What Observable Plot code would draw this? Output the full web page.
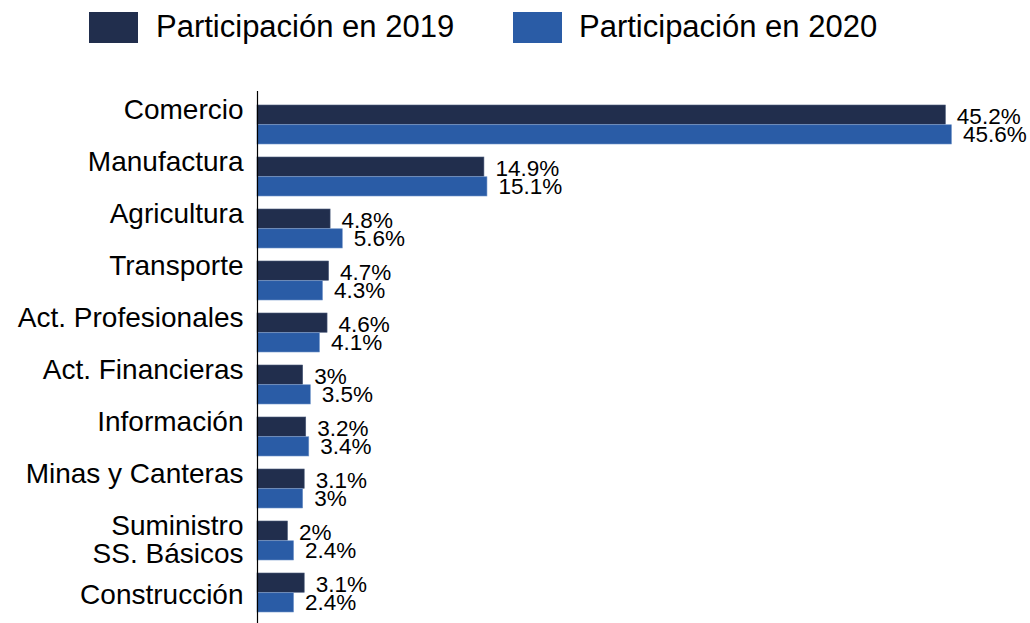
<!DOCTYPE html>
<html>
<head>
<meta charset="utf-8">
<script src="https://cdn.jsdelivr.net/npm/d3@7"></script>
<script src="https://cdn.jsdelivr.net/npm/@observablehq/plot@0.6"></script>
<style>
  html, body { margin: 0; padding: 0; background: #fff; }
  body { width: 1030px; height: 623px; overflow: hidden; font-family: "Liberation Sans", Arial, Helvetica, sans-serif; }
  #legend { position: relative; height: 60px; }
  .sw { position: absolute; top: 12px; width: 49px; height: 31px; }
  .lt { position: absolute; top: 10px; font-size: 31px; line-height: 34px; color: #000; white-space: nowrap; }
</style>
</head>
<body>
<div id="legend"></div>
<div id="chart"></div>
<script>
const categories = ["Comercio", "Manufactura", "Agricultura", "Transporte", "Act. Profesionales",
  "Act. Financieras", "Información", "Minas y Canteras", "Suministro SS. Básicos", "Construcción"];
const tickLabels = ["Comercio", "Manufactura", "Agricultura", "Transporte", "Act. Profesionales",
  "Act. Financieras", "Información", "Minas y Canteras", "Suministro\nSS. Básicos", "Construcción"];
const v2019 = [45.2, 14.9, 4.8, 4.7, 4.6, 3, 3.2, 3.1, 2, 3.1];
const v2020 = [45.6, 15.1, 5.6, 4.3, 4.1, 3.5, 3.4, 3, 2.4, 2.4];
const seriesNames = ["Participación en 2019", "Participación en 2020"];
const colors = ["#212E4D", "#2A5CA6"];

const rows = categories.map((c, i) => ({cat: c, v19: v2019[i], v20: v2020[i]}));
const labelOf = new Map(categories.map((c, i) => [c, tickLabels[i]]));

// legend
const legend = document.getElementById("legend");
const lpos = [[89, 156], [513, 579]];
seriesNames.forEach((s, i) => {
  const sw = document.createElement("div");
  sw.className = "sw"; sw.style.left = lpos[i][0] + "px"; sw.style.background = colors[i];
  legend.appendChild(sw);
  const t = document.createElement("div");
  t.className = "lt"; t.style.left = lpos[i][1] + "px"; t.textContent = s;
  legend.appendChild(t);
});

const half = 19.75;
const axisOpts = {tickSize: 0, tickPadding: 14, fontSize: 28, tickFormat: d => labelOf.get(d), lineHeight: 1.0, label: null};
const chart = Plot.plot({
  width: 1030,
  height: 563,
  marginLeft: 257,
  marginRight: 42,
  marginTop: 34,
  marginBottom: 0,
  style: {fontSize: "28px", fontFamily: "Liberation Sans, Arial, Helvetica, sans-serif", color: "#000", background: "#fff"},
  x: {domain: [0, 48], axis: null},
  y: {domain: categories, paddingInner: 0.25, paddingOuter: 0.144, label: null, axis: null},
  marks: [
    Plot.barX(rows, {y: "cat", x: "v19", fill: colors[0], stroke: "#4a5a7a", strokeWidth: 0.6, insetBottom: half}),
    Plot.barX(rows, {y: "cat", x: "v20", fill: colors[1], stroke: "#6f93c8", strokeWidth: 0.6, insetTop: half}),
    Plot.text(rows, {y: "cat", x: "v19", text: d => `${d.v19}%`, dx: 11, dy: -8, textAnchor: "start", fontSize: 22.5, fill: "#000"}),
    Plot.text(rows, {y: "cat", x: "v20", text: d => `${d.v20}%`, dx: 11, dy: 10, textAnchor: "start", fontSize: 22.5, fill: "#000"}),
    Plot.axisY(categories.slice(0, 8), {...axisOpts, dy: -15}),
    Plot.axisY(categories.slice(8, 9), {...axisOpts, dy: -1}),
    Plot.axisY(categories.slice(9), {...axisOpts, dy: 2}),
    Plot.ruleX([0], {stroke: "#000", strokeWidth: 1.2, insetTop: -3})
  ]
});
document.getElementById("chart").appendChild(chart);
</script>
</body>
</html>
